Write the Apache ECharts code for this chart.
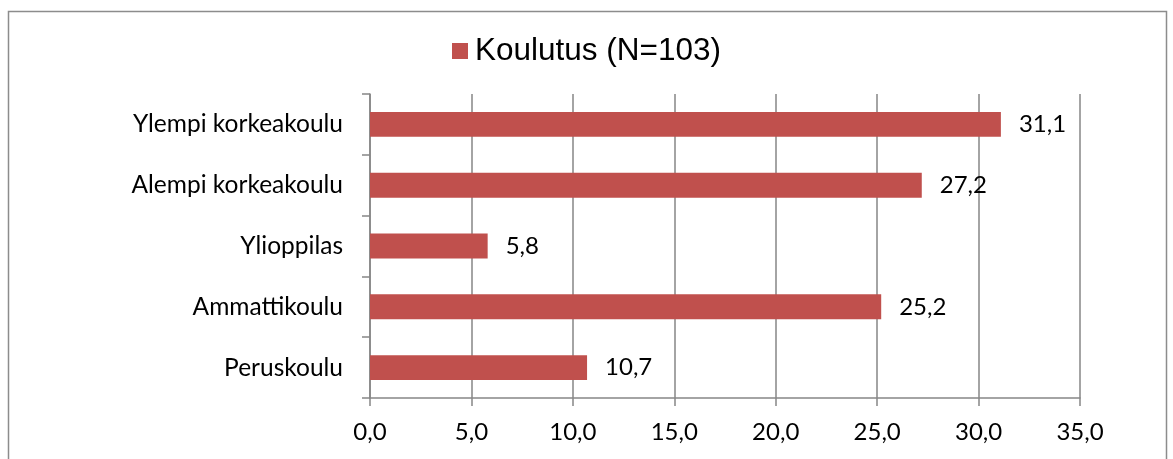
<!DOCTYPE html>
<html>
<head>
<meta charset="utf-8">
<script src="https://cdn.jsdelivr.net/npm/echarts@6/dist/echarts.min.js"></script>
<style>
  html, body { margin: 0; padding: 0; background: #fff; }
  #main { width: 1173px; height: 459px; }
</style>
</head>
<body>
<div id="main"></div>
<script>
// data
var seriesName = 'Koulutus (N=103)';
var categories = ['Peruskoulu', 'Ammattikoulu', 'Ylioppilas', 'Alempi korkeakoulu', 'Ylempi korkeakoulu'];
var values = [10.7, 25.2, 5.8, 27.2, 31.1];
var xTicks = [0, 5, 10, 15, 20, 25, 30, 35];

function fi(v) {
  return v.toFixed(1).replace('.', ',');
}

var chartDom = document.getElementById('main');
var myChart = echarts.init(chartDom);
var option;

var labelFont = 'Lato, "Open Sans", sans-serif';
var gridColor = '#868686';

option = {
  animation: false,
  backgroundColor: '#fff',
  graphic: [
    {
      type: 'rect',
      shape: { x: 8.5, y: 11.5, width: 1158, height: 470 },
      style: { fill: 'none', stroke: '#8c8c8c', lineWidth: 1.5 }
    }
  ],
  legend: {
    left: 'center',
    top: 30,
    itemWidth: 16,
    itemHeight: 16,
    itemGap: 10,
    icon: 'rect',
    textStyle: {
      fontFamily: 'Arial, "Liberation Sans", sans-serif',
      fontSize: 31.5,
      color: '#000',
      padding: [0, 0, 0, 2]
    },
    data: [seriesName]
  },
  grid: {
    left: 370,
    right: 93,
    top: 94,
    bottom: 61,
    containLabel: false
  },
  xAxis: {
    type: 'value',
    min: xTicks[0],
    max: xTicks[xTicks.length - 1],
    interval: 5,
    axisLine: { show: true, lineStyle: { color: gridColor, width: 1.5 } },
    axisTick: { show: true, length: 8, lineStyle: { color: gridColor, width: 1.5 } },
    splitLine: { show: true, lineStyle: { color: gridColor, width: 1.5 } },
    axisLabel: {
      margin: 22,
      color: '#000',
      fontFamily: labelFont,
      fontSize: 24,
      formatter: function (v) { return fi(v); }
    }
  },
  yAxis: {
    type: 'category',
    data: categories,
    axisLine: { show: true, lineStyle: { color: gridColor, width: 1.5 } },
    axisTick: { show: true, length: 8, lineStyle: { color: gridColor, width: 1.5 } },
    axisLabel: {
      margin: 27,
      color: '#000',
      fontFamily: labelFont,
      fontSize: 24.5
    }
  },
  series: [
    {
      name: seriesName,
      type: 'bar',
      data: values,
      barCategoryGap: '59%',
      itemStyle: { color: '#C0504D' },
      label: {
        show: true,
        position: 'right',
        distance: 18,
        color: '#000',
        fontFamily: labelFont,
        fontSize: 24,
        formatter: function (p) { return fi(p.value); }
      }
    }
  ]
};

option && myChart.setOption(option);
</script>
</body>
</html>
